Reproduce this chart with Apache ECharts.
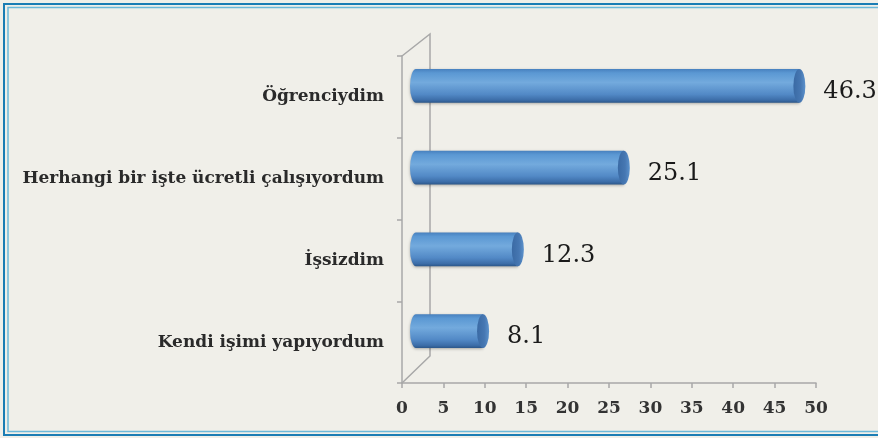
<!DOCTYPE html>
<html>
<head>
<meta charset="utf-8">
<script src="https://cdn.jsdelivr.net/npm/echarts@6/dist/echarts.min.js"></script>
<style>
  html, body { margin: 0; padding: 0; background: #f0efe9; }
  #chart { width: 878px; height: 438px; }
</style>
</head>
<body>
<div id="chart"></div>
<script>
const categories = ['Öğrenciydim', 'Herhangi bir işte ücretli çalışıyordum', 'İşsizdim', 'Kendi işimi yapıyordum']
const values = [46.3, 25.1, 12.3, 8.1]
const xMin = 0
const xMax = 50
const xStep = 5

// depth of the fake 3d box (back wall offset) and of the bars (mid depth)
const depthX = 28
const depthTopY = 22
const depthBottomY = 27
const barShiftX = 14
const barShiftY = -11

const chart = echarts.init(document.getElementById('chart'))

const wallSeries = {
  type: 'custom',
  silent: true,
  z: 1,
  data: [[0]],
  renderItem: (params, api) => {
    const band = api.size([0, 1])[1]
    const top = api.coord([0, 0])
    const bottom = api.coord([0, categories.length - 1])
    const fTop = [top[0], top[1] - band / 2]
    const fBottom = [bottom[0], bottom[1] + band / 2]
    return {
      type: 'polyline',
      shape: {
        points: [
          fTop,
          [fTop[0] + depthX, fTop[1] - depthTopY],
          [fBottom[0] + depthX, fBottom[1] - depthBottomY],
          fBottom
        ]
      },
      style: { stroke: '#a8a8a8', lineWidth: 1.5, fill: null }
    }
  }
}

const barSeries = {
  type: 'custom',
  z: 3,
  data: values.map((v, i) => [v, i]),
  renderItem: (params, api) => {
    const start = api.coord([0, api.value(1)])
    const end = api.coord([api.value(0), api.value(1)])
    const band = api.size([0, 1])[1]
    const h = band * 0.415
    const cy = start[1] + barShiftY
    const xs = start[0] + barShiftX
    const xe = end[0] + barShiftX
    const t = cy - h / 2
    const b = cy + h / 2
    const rx = 6
    const ry = h / 2
    const bodyPath = 'M' + xs + ',' + t + ' L' + xe + ',' + t +
      ' L' + xe + ',' + b + ' L' + xs + ',' + b +
      ' A' + rx + ',' + ry + ' 0 0 1 ' + xs + ',' + t + ' Z'
    const capPath = 'M' + (xe - rx) + ',' + cy +
      ' A' + rx + ',' + ry + ' 0 1 1 ' + (xe + rx) + ',' + cy +
      ' A' + rx + ',' + ry + ' 0 1 1 ' + (xe - rx) + ',' + cy + ' Z'
    const bodyFill = new echarts.graphic.LinearGradient(0, 0, 0, 1, [
      { offset: 0, color: '#4780be' },
      { offset: 0.12, color: '#5b98d3' },
      { offset: 0.4, color: '#73aadd' },
      { offset: 0.75, color: '#5289c6' },
      { offset: 0.92, color: '#3c6da8' },
      { offset: 1, color: '#2b5688' }
    ])
    const capFill = new echarts.graphic.LinearGradient(0, 0, 1, 0, [
      { offset: 0, color: '#3a6aa4' },
      { offset: 0.6, color: '#4677b2' },
      { offset: 1, color: '#5c92cc' }
    ])
    return {
      type: 'group',
      children: [
        {
          type: 'path',
          shape: { pathData: bodyPath, x: xs - rx, y: t, width: xe - xs + rx, height: h },
          style: { fill: bodyFill, shadowBlur: 3, shadowColor: 'rgba(0,0,0,0.3)', shadowOffsetY: 1 }
        },
        {
          type: 'path',
          shape: { pathData: capPath, x: xe - rx, y: t, width: rx * 2, height: h },
          style: { fill: capFill }
        },
        {
          type: 'text',
          x: xe + rx + 18,
          y: cy + 6,
          style: {
            text: String(api.value(0)),
            font: '24px "DejaVu Serif"',
            fill: '#1a1a1a',
            verticalAlign: 'middle',
            align: 'left'
          }
        }
      ]
    }
  }
}

chart.setOption({
  backgroundColor: '#f0efe9',
  animation: false,
  graphic: [
    {
      type: 'rect',
      shape: { x: 4, y: 4, width: 900, height: 431 },
      style: { fill: null, stroke: '#1b7db4', lineWidth: 2 },
      z: 10
    },
    {
      type: 'rect',
      shape: { x: 8, y: 7.5, width: 900, height: 424 },
      style: { fill: null, stroke: '#6cb9d9', lineWidth: 1.5 },
      z: 10
    }
  ],
  grid: { left: 402, right: 62, top: 56, bottom: 55 },
  xAxis: {
    type: 'value',
    min: xMin,
    max: xMax,
    interval: xStep,
    splitLine: { show: false },
    axisLine: { show: true, lineStyle: { color: '#a8a8a8', width: 1.5 } },
    axisTick: { show: true, length: 5, lineStyle: { color: '#a8a8a8', width: 1.5 } },
    axisLabel: {
      margin: 17,
      color: '#333',
      fontFamily: 'DejaVu Serif',
      fontWeight: 'bold',
      fontSize: 17
    }
  },
  yAxis: {
    type: 'category',
    inverse: true,
    data: categories,
    axisLine: { show: true, lineStyle: { color: '#a8a8a8', width: 1.5 } },
    axisTick: { show: true, length: 5, lineStyle: { color: '#a8a8a8', width: 1.5 } },
    axisLabel: {
      margin: 18,
      color: '#2a2a2a',
      fontFamily: 'DejaVu Serif',
      fontWeight: 'bold',
      fontSize: 17
    }
  },
  series: [wallSeries, barSeries]
})
</script>
</body>
</html>
